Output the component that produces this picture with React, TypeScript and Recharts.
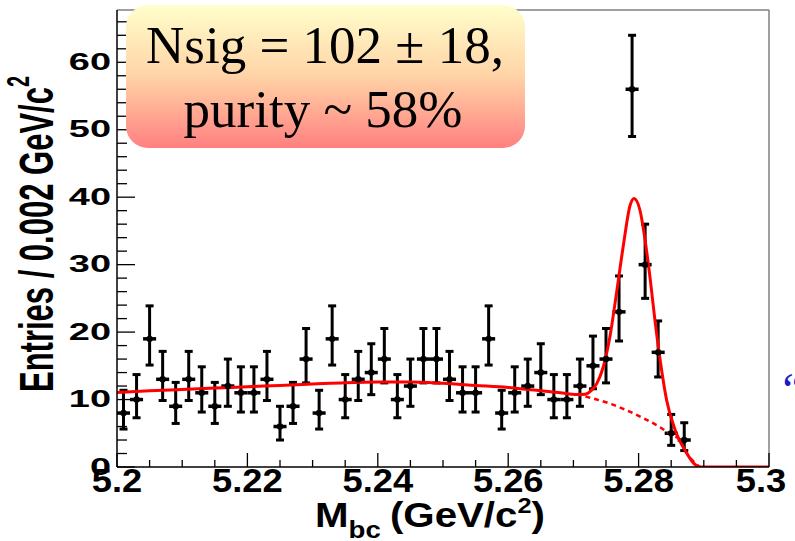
import React from 'react'
import { ComposedChart, Scatter, Line, XAxis, YAxis, ErrorBar, ReferenceLine } from 'recharts'

// histogram: Mbc bins of 0.002 GeV/c^2 starting at 5.2 (empty bins are not drawn)
const binStart = 5.2
const binWidth = 0.002
const counts = [
  8, 10, 19, 13, 9, 13, 11, 9, 12, 11,
  11, 13, 6, 9, 16, 8, 19, 10, 13, 14,
  16, 10, 12, 16, 16, 13, 11, 11, 19, 8,
  11, 12, 14, 10, 10, 12, 15, 16, 23, 56,
  30, 17, 5, 4,
]

// fit curves: [Mbc, entries]
const fitTotal: [number, number][] = [
  [5.2, 11.05], [5.205, 11.3], [5.21, 11.5], [5.215, 11.7], [5.22, 11.9],
  [5.225, 12.1], [5.23, 12.3], [5.235, 12.5], [5.24, 12.6], [5.245, 12.6],
  [5.25, 12.4], [5.255, 12.1], [5.26, 11.8], [5.264, 11.4], [5.268, 11.0],
  [5.2705, 10.75], [5.2718, 10.8], [5.2728, 11.4], [5.2736, 12.4], [5.2746, 14.9],
  [5.2756, 19.3], [5.2766, 25.7], [5.2777, 33.1], [5.2787, 38.8], [5.2793, 39.8],
  [5.2802, 38.1], [5.281, 33.6], [5.2818, 27.7], [5.2825, 21.8], [5.2833, 15.9],
  [5.2843, 9.9], [5.2856, 5.5], [5.2871, 2.5], [5.2894, 0], [5.3, 0],
]
const fitBkg: [number, number][] = [
  [5.2705, 10.75], [5.2756, 9.4], [5.2782, 8.4], [5.2808, 7.2], [5.2833, 5.9],
  [5.2853, 4.6], [5.2862, 4.2], [5.2871, 2.5], [5.2894, 0],
]

const yTicks = [0, 2, 4, 6, 8, 10, 12, 14, 16, 18, 20, 22, 24, 26, 28, 30, 32, 34, 36, 38, 40, 42, 44, 46, 48, 50, 52, 54, 56, 58, 60, 62, 64, 66]
const yMajor = [0, 10, 20, 30, 40, 50, 60]
const xTicks = [5.2, 5.205, 5.21, 5.215, 5.22, 5.225, 5.23, 5.235, 5.24, 5.245, 5.25, 5.255, 5.26, 5.265, 5.27, 5.275, 5.28, 5.285, 5.29, 5.295, 5.3]
const xMajor = [5.2, 5.22, 5.24, 5.26, 5.28, 5.3]
const xLabels = ['5.2', '5.22', '5.24', '5.26', '5.28', '5.3']

const points = counts.map((n, i) => {
  const s = Math.sqrt(n + 0.25)
  return { x: binStart + binWidth * (i + 0.5), y: n, ey: [s - 0.5, s + 0.5], ex: binWidth / 2 }
})
const totalData = fitTotal.map(([x, y]) => ({ x, y }))
const bkgData = fitBkg.map(([x, y]) => ({ x, y }))

const font = '"Liberation Sans", Arial, Helvetica, sans-serif'
const serif = '"Liberation Serif", "Times New Roman", serif'

function YTick(props: any) {
  const { x, y, payload } = props
  const major = yMajor.includes(payload.value)
  return (
    <g>
      <line x1={x} x2={x + (major ? 18 : 10)} y1={y} y2={y} stroke="#000" strokeWidth={1.3} />
      {major && (
        <text
          transform={`translate(${x - 6},${y}) scale(1.65,1)`}
          textAnchor="end"
          dominantBaseline="central"
          fontFamily={font}
          fontWeight="bold"
          fontSize={23}
          fill="#000"
        >
          {payload.value}
        </text>
      )}
    </g>
  )
}

function XTick(props: any) {
  const { x, y, payload } = props
  const idx = xMajor.findIndex((m) => Math.abs(m - payload.value) < 1e-6)
  const major = idx >= 0
  const shift = idx === xMajor.length - 1 ? -8 : 0
  return (
    <g>
      <line x1={x} x2={x} y1={y} y2={y - (major ? 14 : 7)} stroke="#000" strokeWidth={1.3} />
      {major && (
        <text
          transform={`translate(${x + shift},${y + 25}) scale(1.1,1)`}
          textAnchor="middle"
          fontFamily={font}
          fontWeight="bold"
          fontSize={33}
          fill="#000"
        >
          {xLabels[idx]}
        </text>
      )}
    </g>
  )
}

const dot = (p: any) => <circle cx={p.cx} cy={p.cy} r={3.2} fill="#000" />

export default function App() {
  return (
    <div style={{ position: 'absolute', left: 0, top: 0, width: 795, height: 541, background: '#fff' }}>
      <ComposedChart width={795} height={541} margin={{ top: 10, right: 26, bottom: 34, left: 57 }}>
        <XAxis
          dataKey="x"
          type="number"
          domain={[5.2, 5.3]}
          ticks={xTicks}
          interval={0}
          allowDataOverflow
          height={40}
          tickSize={0}
          tickMargin={0}
          tickLine={false}
          axisLine={{ stroke: '#000', strokeWidth: 1.5 }}
          tick={<XTick />}
        />
        <YAxis
          type="number"
          domain={[0, 67.75]}
          ticks={yTicks}
          interval={0}
          allowDataOverflow
          width={60}
          tickSize={0}
          tickMargin={0}
          tickLine={false}
          axisLine={{ stroke: '#000', strokeWidth: 1.5 }}
          tick={<YTick />}
        />
        <ReferenceLine y={67.75} stroke="#808080" strokeWidth={1.5} />
        <ReferenceLine x={5.3} stroke="#808080" strokeWidth={1.5} />
        <Scatter data={points} dataKey="y" shape={dot} isAnimationActive={false}>
          <ErrorBar dataKey="ey" direction="y" width={4} stroke="#000" strokeWidth={3} isAnimationActive={false} />
          <ErrorBar dataKey="ex" direction="x" width={0} stroke="#000" strokeWidth={3.5} isAnimationActive={false} />
        </Scatter>
        <Line
          data={bkgData}
          dataKey="y"
          type="monotone"
          stroke="#ff0000"
          strokeWidth={2.5}
          strokeDasharray="5 4"
          dot={false}
          activeDot={false}
          isAnimationActive={false}
        />
        <Line
          data={totalData}
          dataKey="y"
          type="monotone"
          stroke="#ff0000"
          strokeWidth={3}
          dot={false}
          activeDot={false}
          isAnimationActive={false}
        />
      </ComposedChart>

      <svg width={795} height={541} style={{ position: 'absolute', left: 0, top: 0, pointerEvents: 'none' }}>
        <defs>
          <linearGradient id="boxFill" x1="0" y1="0" x2="0" y2="1">
            <stop offset="0%" stopColor="#ffffcc" />
            <stop offset="50%" stopColor="#ffd3a6" />
            <stop offset="100%" stopColor="#ff8080" />
          </linearGradient>
        </defs>
        <rect x={126} y={5} width={399} height={143} rx={22} fill="url(#boxFill)" />
        <text x={325} y={63} textAnchor="middle" fontFamily={serif} fontSize={53} fill="#000">
          Nsig = 102 ± 18,
        </text>
        <text x={323} y={127} textAnchor="middle" fontFamily={serif} fontSize={53} fill="#000">
          purity ~ 58%
        </text>

        <text
          transform="translate(53,234) rotate(-90) scale(1,1.57)"
          textAnchor="middle"
          fontFamily={font}
          fontWeight="bold"
          fontSize={31}
          fill="#000"
        >
          Entries / 0.002 GeV/c<tspan fontSize={20} dy={-15}>2</tspan>
        </text>

        <text transform="translate(315,527) scale(1.15,1)" fontFamily={font} fontWeight="bold" fontSize={35} fill="#000">
          M<tspan fontSize={24} dy={11}>bc</tspan>
          <tspan dy={-11} dx={8}>(GeV/c</tspan>
          <tspan fontSize={22} dy={-14}>2</tspan>
          <tspan dy={14}>)</tspan>
        </text>

        <text x={778} y={405} fontFamily={serif} fontStyle="italic" fontSize={46} fill="#1a1acc">
          “
        </text>
      </svg>
    </div>
  )
}
